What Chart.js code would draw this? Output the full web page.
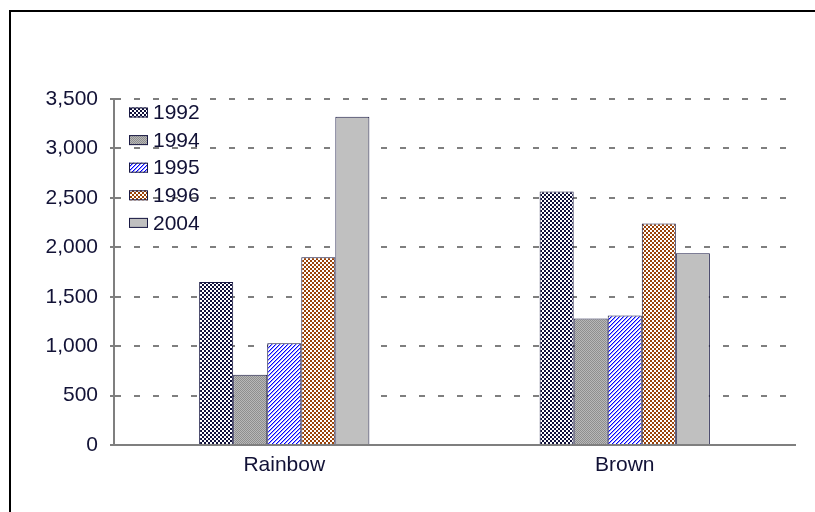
<!DOCTYPE html>
<html>
<head>
<meta charset="utf-8">
<script src="https://cdn.jsdelivr.net/npm/chart.js@4"></script>
<style>
  html, body { margin: 0; padding: 0; background: #ffffff; }
  #wrap { width: 815px; height: 512px; }
</style>
</head>
<body>
<div id="wrap"><canvas id="c" width="815" height="512"></canvas></div>
<script>
// Categories, series names and values
const categories = ['Rainbow', 'Brown'];
const seriesNames = ['1992', '1994', '1995', '1996', '2004'];
const values1992 = [1650, 2565];
const values1994 = [710, 1280];
const values1995 = [1030, 1310];
const values1996 = [1900, 2240];
const values2004 = [3320, 1940];
const yTicks = [0, 500, 1000, 1500, 2000, 2500, 3000, 3500];

const TEXT = '#121236';
const FONT = { family: "'Liberation Sans', Arial, sans-serif", size: 21 };
const EDGE = '#1a1a44';
const AXIS = '#7f7f7f';

// Small repeating fills for the bars
function makePattern(size, paint) {
  const c = document.createElement('canvas');
  c.width = size; c.height = size;
  const g = c.getContext('2d');
  paint(g, size);
  return g.createPattern(c, 'repeat');
}
// two-pixel checker: ink cells with white dots on the diagonal lattice
function checker(ink) {
  return makePattern(4, (g, n) => {
    g.fillStyle = ink; g.fillRect(0, 0, n, n);
    g.fillStyle = '#ffffff';
    g.fillRect(0, 0, 2, 2);
    g.fillRect(2, 2, 2, 2);
  });
}
const fill1992 = checker('#10103a');
const fill1994 = makePattern(2, (g) => {
  g.fillStyle = '#b8b8b8'; g.fillRect(0, 0, 2, 2);
  g.fillStyle = '#8e8e8e'; g.fillRect(0, 0, 1, 1); g.fillRect(1, 1, 1, 1);
});
// rising diagonal blue stripes with a soft edge
const fill1995 = makePattern(4, (g, n) => {
  g.fillStyle = '#ffffff'; g.fillRect(0, 0, n, n);
  for (let x = 0; x < n; x++) for (let y = 0; y < n; y++) {
    const k = (x + y) % 4;
    if (k === 3) { g.fillStyle = '#0000ff'; g.fillRect(x, y, 1, 1); }
    if (k === 0) { g.fillStyle = '#a0a0ff'; g.fillRect(x, y, 1, 1); }
  }
});
const fill1996 = checker('#9a4208');
const fill2004 = '#c0c0c0';

const seriesValues = [values1992, values1994, values1995, values1996, values2004];
const seriesFills = [fill1992, fill1994, fill1995, fill1996, fill2004];

// Outer frame (top and left edges visible)
const framePlugin = {
  id: 'frame',
  beforeDraw(chart) {
    const ctx = chart.ctx;
    ctx.save();
    ctx.strokeStyle = '#000000';
    ctx.lineWidth = 2;
    ctx.strokeRect(10, 11, 1000, 1000);
    ctx.restore();
  }
};

// Year key drawn inside the plot, top-left
const keyPlugin = {
  id: 'yearKey',
  afterDatasetsDraw(chart) {
    const ctx = chart.ctx;
    const { left, top } = chart.chartArea;
    ctx.save();
    chart.data.datasets.forEach((ds, i) => {
      const cy = top + 13.5 + i * 27.6;
      const bx = left + 15;
      ctx.fillStyle = ds.backgroundColor;
      ctx.fillRect(bx, cy - 5, 19, 10);
      ctx.strokeStyle = ds.borderColor;
      ctx.lineWidth = 1;
      ctx.strokeRect(bx + 0.5, cy - 4.5, 18, 9);
      ctx.fillStyle = TEXT;
      ctx.font = FONT.size + 'px ' + FONT.family;
      ctx.textAlign = 'left';
      ctx.textBaseline = 'middle';
      ctx.fillText(ds.label, bx + 24, cy + 1);
    });
    ctx.restore();
  }
};

new Chart(document.getElementById('c'), {
  type: 'bar',
  data: {
    labels: categories,
    datasets: seriesNames.map((name, i) => ({
      label: name,
      data: seriesValues[i],
      backgroundColor: seriesFills[i],
      borderColor: EDGE,
      borderWidth: 1,
      borderSkipped: 'bottom',
      categoryPercentage: 0.5,
      barPercentage: 1.0
    }))
  },
  options: {
    responsive: false,
    animation: false,
    devicePixelRatio: 1,
    layout: { padding: { top: 99, right: 20, left: 0, bottom: 0 } },
    plugins: {
      legend: { display: false },
      tooltip: { enabled: false },
      title: { display: false }
    },
    scales: {
      x: {
        grid: { display: false, drawTicks: false },
        border: { display: true, color: AXIS, width: 2 },
        ticks: { color: TEXT, font: FONT, padding: 8 },
        afterFit: (s) => { s.height = 67; }
      },
      y: {
        min: 0,
        max: 3500,
        afterBuildTicks: (s) => { s.ticks = yTicks.map(v => ({ value: v })); },
        ticks: {
          color: TEXT,
          font: FONT,
          padding: 12,
          callback: (v) => Number(v).toLocaleString('en-US')
        },
        grid: {
          color: AXIS,
          lineWidth: 2,
          drawTicks: true,
          tickLength: 4,
          tickColor: AXIS,
          tickWidth: 2,
          tickBorderDash: []
        },
        border: { display: true, color: AXIS, width: 2, dash: [6, 13], dashOffset: 0 },
        afterFit: (s) => { s.width = 114; }
      }
    }
  },
  plugins: [framePlugin, keyPlugin]
});
</script>
</body>
</html>
